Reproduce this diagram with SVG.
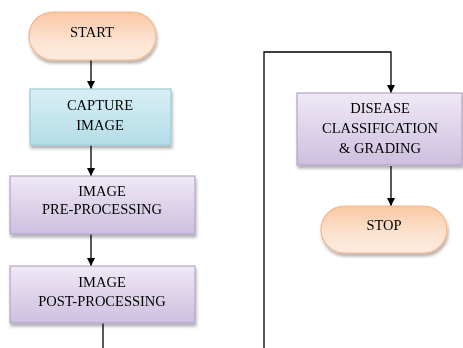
<svg xmlns="http://www.w3.org/2000/svg" width="463" height="348" viewBox="0 0 463 348">
<defs>
<linearGradient id="gOr" x1="0" y1="0" x2="0" y2="1">
<stop offset="0" stop-color="#f9c8a3"/>
<stop offset="0.6" stop-color="#fde3d1"/>
<stop offset="1" stop-color="#fdebdf"/>
</linearGradient>
<linearGradient id="gCy" x1="0" y1="0" x2="0" y2="1">
<stop offset="0" stop-color="#d9eff5"/>
<stop offset="1" stop-color="#b3dce7"/>
</linearGradient>
<linearGradient id="gPu" x1="0" y1="0" x2="0" y2="1">
<stop offset="0" stop-color="#efe9f5"/>
<stop offset="1" stop-color="#cdbfdf"/>
</linearGradient>
<filter id="sh" x="-10%" y="-10%" width="130%" height="140%">
<feDropShadow dx="1" dy="3" stdDeviation="1.5" flood-color="#000" flood-opacity="0.3"/>
</filter>
<marker id="ah" viewBox="0 0 10 10" refX="10" refY="5" markerWidth="8" markerHeight="8" markerUnits="userSpaceOnUse" orient="auto">
<path d="M0,0 L10,5 L0,10 Z" fill="#000"/>
</marker>
</defs>
<style>
.t{font-family:"Liberation Serif","Times New Roman",serif;font-size:14.5px;fill:#000;text-anchor:middle;dominant-baseline:central}
.or{fill:url(#gOr);stroke:#f3b589;stroke-width:1.2}
.cy{fill:url(#gCy);stroke:#9ccbd8;stroke-width:1.2}
.pu{fill:url(#gPu);stroke:#b5a4c9;stroke-width:1.2}
.c{fill:none;stroke:#000;stroke-width:1.3}
</style>
<g id="connectors">
<path class="c" d="M91,60 V89" marker-end="url(#ah)"/>
<path class="c" d="M91,145 V176" marker-end="url(#ah)"/>
<path class="c" d="M91,234 V266" marker-end="url(#ah)"/>
<path class="c" d="M103,323 V348" stroke="#444"/>
<path class="c" d="M264,348 V52 H391 V93" marker-end="url(#ah)"/>
<path class="c" d="M391,166 V206" marker-end="url(#ah)"/>
</g>
<g id="start" filter="url(#sh)">
<rect class="or" x="29" y="12" width="127" height="48" rx="24" ry="24"/>
<text class="t" x="92" y="32">START</text>
</g>
<g id="capture" filter="url(#sh)">
<rect class="cy" x="30" y="89" width="141" height="56"/>
<text class="t" x="100" y="105">CAPTURE</text>
<text class="t" x="100" y="125">IMAGE</text>
</g>
<g id="pre" filter="url(#sh)">
<rect class="pu" x="10" y="176" width="185" height="58"/>
<text class="t" x="102" y="191">IMAGE</text>
<text class="t" x="102" y="209">PRE-PROCESSING</text>
</g>
<g id="post" filter="url(#sh)">
<rect class="pu" x="10" y="266" width="185" height="57"/>
<text class="t" x="102" y="282">IMAGE</text>
<text class="t" x="102" y="301">POST-PROCESSING</text>
</g>
<g id="disease" filter="url(#sh)">
<rect class="pu" x="297" y="93" width="165" height="72"/>
<text class="t" x="380" y="108">DISEASE</text>
<text class="t" x="380" y="128">CLASSIFICATION</text>
<text class="t" x="380" y="148">&amp; GRADING</text>
</g>
<g id="stop" filter="url(#sh)">
<rect class="or" x="321" y="206" width="126" height="47" rx="23.5" ry="23.5"/>
<text class="t" x="384" y="225">STOP</text>
</g>
</svg>
